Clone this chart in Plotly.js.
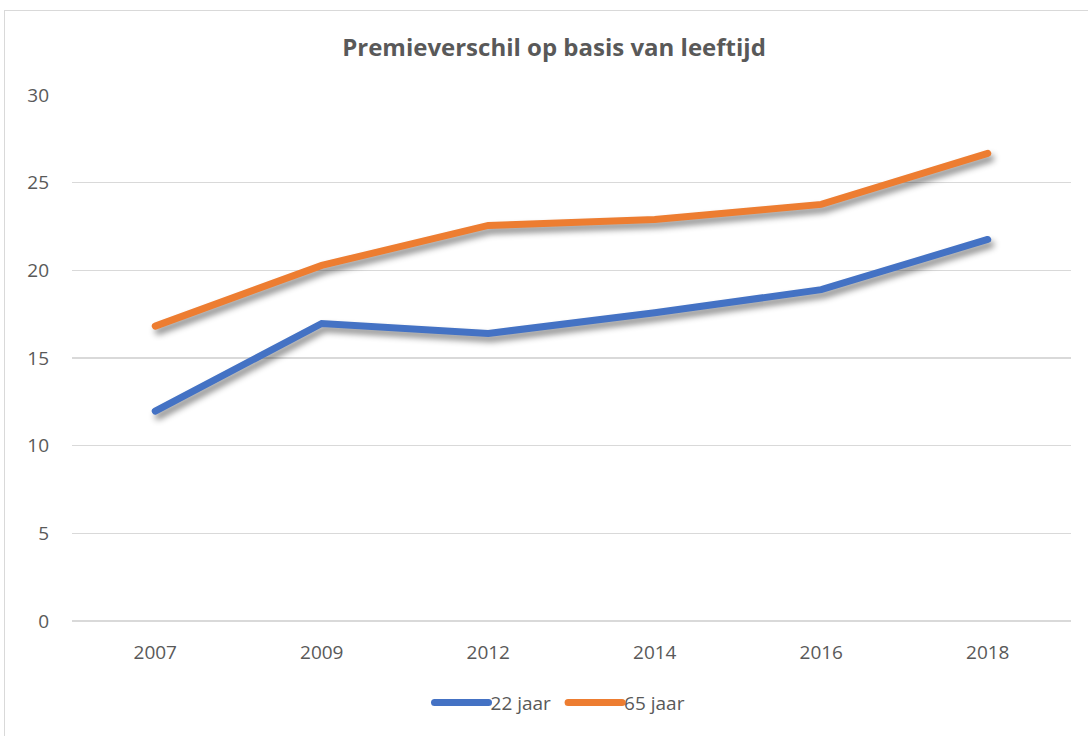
<!DOCTYPE html>
<html>
<head>
<meta charset="utf-8">
<script src="https://cdn.plot.ly/plotly-3.0.1.min.js"></script>
<style>
  html, body { margin: 0; padding: 0; background: #fff; }
  #chart { position: absolute; left: 0; top: 0; width: 1088px; height: 736px; }
  #frame { position: absolute; left: 4px; top: 10px; width: 1100px; height: 740px;
           border: 1px solid #d9d9d9; pointer-events: none; }
  #chart .scatterlayer path.js-line {
    stroke-linecap: round;
    filter: drop-shadow(3px 5px 3px rgba(0,0,0,0.45));
  }
  #chart .legend .legendlines path { stroke-linecap: round; }
</style>
</head>
<body>
<div id="chart"></div>
<div id="frame"></div>
<script>
// premieverschil per leeftijd
const years = ["2007", "2009", "2012", "2014", "2016", "2018"];
const jaar22 = [11.97, 16.97, 16.4, 17.58, 18.9, 21.76];
const jaar65 = [16.82, 20.28, 22.56, 22.9, 23.76, 26.67];
const yTicks = [0, 5, 10, 15, 20, 25, 30];

const font = "'Open Sans', sans-serif";
const grey = "#595959";

const traces = [
    {
        x: years, y: jaar22, name: "22 jaar",
        type: "scatter", mode: "lines",
        line: { color: "#4472c4", width: 7 }
    },
    {
        x: years, y: jaar65, name: "65 jaar",
        type: "scatter", mode: "lines",
        line: { color: "#ed7d31", width: 7 }
    }
];

const layout = {
    width: 1088, height: 736,
    margin: { l: 72, r: 17, t: 95, b: 115 },
    paper_bgcolor: "#fff", plot_bgcolor: "#fff",
    font: { family: font, size: 19, color: grey },
    title: {
        text: "<b>Premieverschil op basis van leeftijd</b>",
        font: { family: font, size: 24, color: grey },
        x: 554 / 1088, xanchor: "center", y: 0.936, yanchor: "middle"
    },
    xaxis: {
        type: "category",
        range: [-0.5, years.length - 0.5],
        showgrid: false, zeroline: false, showline: false,
        ticks: "", ticklabelstandoff: 18,
        tickfont: { size: 19, color: grey }
    },
    yaxis: {
        range: [0, 30],
        tickvals: yTicks,
        showgrid: true, gridcolor: "#d9d9d9", gridwidth: 1.3,
        zeroline: true, zerolinecolor: "#d9d9d9", zerolinewidth: 1.3,
        showline: false, ticks: "", ticklabelstandoff: 22,
        tickfont: { size: 19, color: grey }
    },
    legend: {
        orientation: "h",
        x: 0.485, xanchor: "center",
        y: -0.155, yanchor: "middle",
        font: { size: 19, color: grey },
        itemwidth: 58, tracegroupgap: 0
    },
    showlegend: true
};

Plotly.newPlot("chart", traces, layout, { displayModeBar: false, staticPlot: true }).then(gd => {
    // stretch legend line samples like the original
    gd.querySelectorAll(".legend .legendlines path").forEach(p => p.setAttribute("d", "M12,0h54"));
});
</script>
</body>
</html>
